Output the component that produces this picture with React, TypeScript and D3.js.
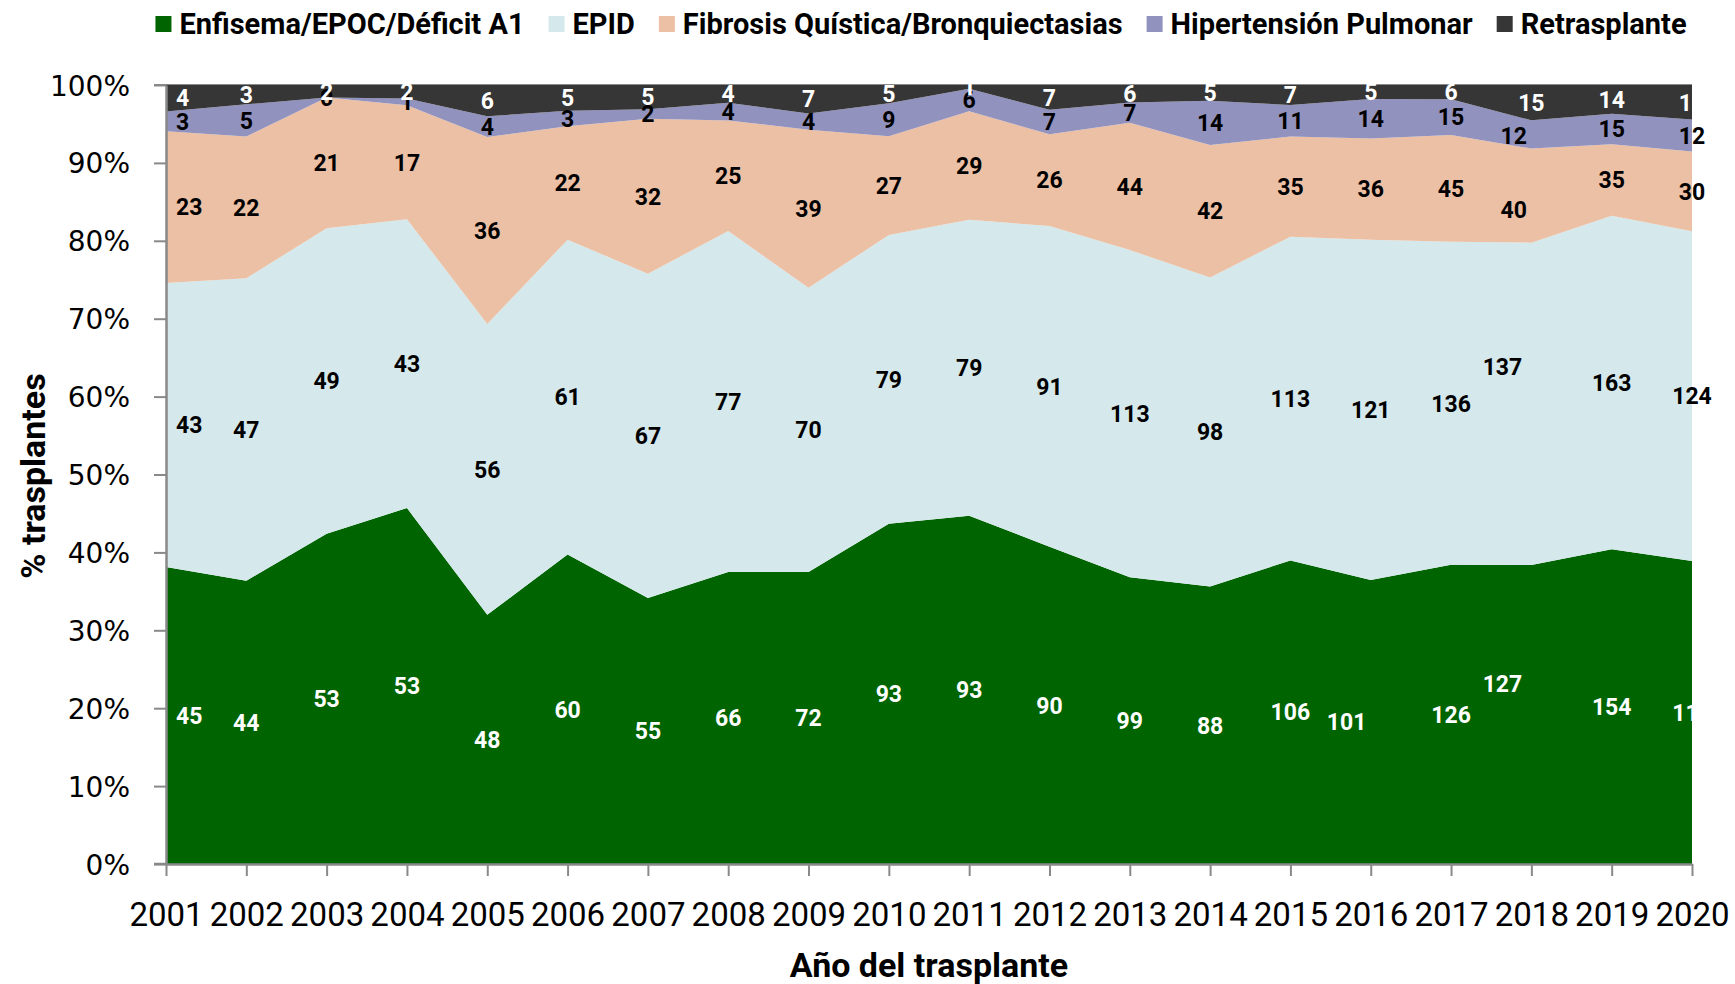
import React, { useEffect, useRef } from 'react';
import * as d3 from 'd3';

// ---------- data (number of transplants per year) ----------
const years = ['2001','2002','2003','2004','2005','2006','2007','2008','2009','2010','2011','2012','2013','2014','2015','2016','2017','2018','2019','2020'];
const seriesNames = ['Enfisema/EPOC/Déficit A1', 'EPID', 'Fibrosis Quística/Bronquiectasias', 'Hipertensión Pulmonar', 'Retrasplante'];
const enfisema = [45, 44, 53, 53, 48, 60, 55, 66, 72, 93, 93, 90, 99, 88, 106, 101, 126, 127, 154, 114];
const epid = [43, 47, 49, 43, 56, 61, 67, 77, 70, 79, 79, 91, 113, 98, 113, 121, 136, 137, 163, 124];
const fibrosis = [23, 22, 21, 17, 36, 22, 32, 25, 39, 27, 29, 26, 44, 42, 35, 36, 45, 40, 35, 30];
const hipertension = [3, 5, 0, 1, 4, 3, 2, 4, 4, 9, 6, 7, 7, 14, 11, 14, 15, 12, 15, 12];
const retrasplante = [4, 3, 2, 2, 6, 5, 5, 4, 7, 5, 1, 7, 6, 5, 7, 5, 6, 15, 14, 13];
const yTicks = [0, 10, 20, 30, 40, 50, 60, 70, 80, 90, 100];

// ---------- styles ----------
const colors = ['#006400', '#d5e8eb', '#ecc0a5', '#9292be', '#363636'];
const labelColors = ['#ffffff', '#000000', '#000000', '#000000', '#ffffff'];
// manual label displacement (dx in category steps, dy in percentage points)
const labelNudges: Record<string, { dx: number; dy: number }> = {
  '0|2016': { dx: -0.3, dy: 0 },
  '0|2018': { dx: -0.36, dy: 4.0 },
  '1|2018': { dx: -0.36, dy: 4.8 },
  '2|2018': { dx: -0.22, dy: -1.8 },
  '3|2018': { dx: -0.22, dy: -0.2 },
};

const W = 1735;
const H = 984;
const X0 = 166, X1 = 1692, Y0 = 864, Y1 = 85;
const AXIS = '#898989';
const SANS = 'Roboto, "Open Sans", sans-serif';

export default function App() {
  const ref = useRef<SVGSVGElement>(null);

  useEffect(() => {
    const svg = d3.select(ref.current as SVGSVGElement);
    svg.selectAll('*').remove();

    const values = [enfisema, epid, fibrosis, hipertension, retrasplante];
    const keys = seriesNames.map((_, i) => String(i));
    const rows = years.map((yr, i) => {
      const total = d3.sum(values, (v) => v[i]);
      const r: any = { year: yr };
      values.forEach((v, k) => { r[String(k)] = (v[i] / total) * 100; });
      return r;
    });
    const stacked = d3.stack<any>().keys(keys)(rows);

    const x = d3.scalePoint<string>().domain(years).range([X0, X1]);
    const y = d3.scaleLinear().domain([0, 100]).range([Y0, Y1]);
    const step = x.step();

    // top gridline (100%)
    svg.append('line')
      .attr('x1', X0 - 12).attr('x2', X1)
      .attr('y1', y(100)).attr('y2', y(100))
      .attr('stroke', AXIS).attr('stroke-width', 2);

    // areas
    const area = d3.area<any>()
      .x((d) => x(d.data.year) as number)
      .y0((d) => y(d[0]))
      .y1((d) => y(d[1]))
      .curve(d3.curveLinear);

    svg.append('g').selectAll('path')
      .data(stacked)
      .join('path')
      .attr('d', (s) => area(s as any) as string)
      .attr('fill', (_, i) => colors[i]);

    // y axis
    const yAxis = d3.axisLeft(y).tickValues(yTicks).tickSize(12).tickSizeOuter(0).tickPadding(24)
      .tickFormat((d) => `${d}%`);
    const gy = svg.append('g').attr('transform', `translate(${X0},0)`).call(yAxis);
    gy.select('.domain').attr('stroke', AXIS).attr('stroke-width', 2.5);
    gy.selectAll('.tick line').attr('stroke', AXIS).attr('stroke-width', 2);
    gy.selectAll('.tick text')
      .attr('font-family', '"DejaVu Sans", sans-serif')
      .attr('font-size', 28)
      .attr('fill', '#000')
      .attr('dy', '0.36em');

    // x axis
    const xAxis = d3.axisBottom(x).tickSize(12).tickSizeOuter(0).tickPadding(0);
    const gx = svg.append('g').attr('transform', `translate(0,${Y0})`).call(xAxis);
    gx.select('.domain').attr('stroke', AXIS).attr('stroke-width', 2.5);
    gx.selectAll('.tick line').attr('stroke', AXIS).attr('stroke-width', 2);
    gx.selectAll('.tick text')
      .attr('font-family', SANS)
      .attr('font-size', 33)
      .attr('fill', '#000')
      .attr('y', 62)
      .attr('dy', 0);
    svg.append('line')
      .attr('x1', X0 - 12).attr('x2', X0)
      .attr('y1', Y0).attr('y2', Y0)
      .attr('stroke', AXIS).attr('stroke-width', 2.5);

    // data labels
    const lg = svg.append('g')
      .attr('font-family', SANS)
      .attr('font-weight', 700)
      .attr('font-size', 23);
    stacked.forEach((s, k) => {
      s.forEach((d: any, i: number) => {
        const nudge = labelNudges[`${k}|${years[i]}`] || { dx: 0, dy: 0 };
        const mid = (d[0] + d[1]) / 2 + nudge.dy;
        const cx = (x(years[i]) as number) + nudge.dx * step;
        const t = lg.append('text')
          .attr('y', y(mid))
          .attr('dy', '0.36em')
          .attr('fill', labelColors[k])
          .text(String(values[k][i]));
        if (i === 0) {
          t.attr('x', X0 + 10).attr('text-anchor', 'start');
        } else {
          t.attr('x', cx).attr('text-anchor', 'middle');
        }
      });
    });

    // axis titles
    svg.append('text')
      .attr('x', 929).attr('y', 977)
      .attr('text-anchor', 'middle')
      .attr('font-family', SANS).attr('font-weight', 700).attr('font-size', 34)
      .attr('fill', '#000')
      .text('Año del trasplante');
    svg.append('text')
      .attr('transform', `translate(45,476) rotate(-90)`)
      .attr('text-anchor', 'middle')
      .attr('font-family', SANS).attr('font-weight', 700).attr('font-size', 34)
      .attr('fill', '#000')
      .text('% trasplantes');

    // legend
    const leg = svg.append('g');
    const items = seriesNames.map((name, i) => {
      const g = leg.append('g');
      g.append('rect').attr('x', 0).attr('y', -8).attr('width', 16).attr('height', 16).attr('fill', colors[i]);
      const t = g.append('text')
        .attr('x', 24).attr('y', 0).attr('dy', '0.36em')
        .attr('font-family', SANS).attr('font-weight', 700).attr('font-size', 29)
        .attr('fill', '#000')
        .text(name);
      const w = (t.node() as SVGTextElement).getComputedTextLength();
      return { g, w: 24 + w };
    });
    const gap = 24;
    const totalW = d3.sum(items, (it) => it.w) + gap * (items.length - 1);
    let cur = 921 - totalW / 2;
    items.forEach((it) => {
      it.g.attr('transform', `translate(${cur},24)`);
      cur += it.w + gap;
    });
  }, []);

  return (
    <svg
      ref={ref}
      width={W}
      height={H}
      style={{ position: 'absolute', left: 0, top: 0, background: '#fff' }}
    />
  );
}
